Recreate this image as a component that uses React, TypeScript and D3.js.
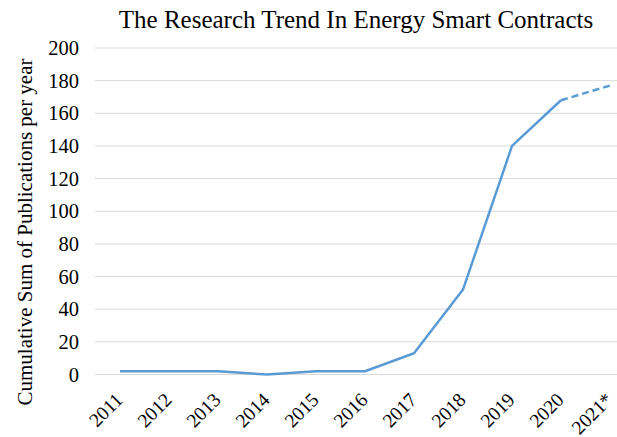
import React, { useRef, useEffect } from 'react';
import * as d3 from 'd3';

const years = ['2011', '2012', '2013', '2014', '2015', '2016', '2017', '2018', '2019', '2020', '2021*'];
const publications = [2, 2, 2, 0, 2, 2, 13, 52, 140, 168, 177];
const yTicks = [0, 20, 40, 60, 80, 100, 120, 140, 160, 180, 200];

const App = () => {
  const chartRef = useRef(null);

  useEffect(() => {
    document.body.style.margin = '0';
    const svg = d3.select(chartRef.current);
    svg.selectAll('*').remove();
    const font = '"Liberation Serif", "Times New Roman", serif';

    const x = d3.scaleBand()
      .domain(years)
      .range([95.5, 95.5 + 49 * years.length]);
    const y = d3.scaleLinear()
      .domain([0, 200])
      .range([374.5, 48]);

    // gridlines
    svg.append('g')
      .selectAll('line')
      .data(yTicks)
      .enter()
      .append('line')
      .attr('x1', 95)
      .attr('x2', 617)
      .attr('y1', (d) => y(d))
      .attr('y2', (d) => y(d))
      .attr('stroke', '#d9d9d9')
      .attr('stroke-width', 1);

    // y tick labels
    svg.append('g')
      .selectAll('text')
      .data(yTicks)
      .enter()
      .append('text')
      .attr('x', 79)
      .attr('y', (d) => y(d))
      .attr('dy', '0.35em')
      .attr('text-anchor', 'end')
      .attr('font-family', font)
      .attr('font-size', 20.5)
      .text((d) => d);

    // x tick labels
    svg.append('g')
      .selectAll('text')
      .data(years)
      .enter()
      .append('text')
      .attr('transform', (d) => `translate(${x(d) + x.bandwidth() / 2 + 4},${401}) rotate(-45)`)
      .attr('text-anchor', 'end')
      .attr('font-family', font)
      .attr('font-size', 19.5)
      .text((d) => d);

    const cx = (i) => x(years[i]) + x.bandwidth() / 2;
    const line = d3.line<number>()
      .x((d, i) => cx(i))
      .y((d) => y(d));

    const solid = publications.slice(0, publications.length - 1);
    svg.append('path')
      .attr('d', line(solid))
      .attr('fill', 'none')
      .attr('stroke', '#5b9bd5')
      .attr('stroke-width', 2.5)
      .attr('stroke-linejoin', 'round');

    const n = publications.length;
    svg.append('path')
      .attr('d', d3.line<number>()
        .x((d, i) => cx(n - 2 + i))
        .y((d) => y(d))(publications.slice(n - 2)))
      .attr('fill', 'none')
      .attr('stroke', '#5b9bd5')
      .attr('stroke-width', 2.5)
      .attr('stroke-dasharray', '7,4');

    // title
    svg.append('text')
      .attr('x', 356)
      .attr('y', 28)
      .attr('text-anchor', 'middle')
      .attr('font-family', font)
      .attr('font-size', 25)
      .text('The Research Trend In Energy Smart Contracts');

    // y axis label
    svg.append('text')
      .attr('transform', 'translate(32,232) rotate(-90)')
      .attr('text-anchor', 'middle')
      .attr('font-family', font)
      .attr('font-size', 21)
      .text('Cumulative Sum of Publications per year');
  }, []);

  return (
    <svg ref={chartRef} width="617" height="437" style={{ display: 'block', overflow: 'hidden' }}></svg>
  );
};

export default App;
